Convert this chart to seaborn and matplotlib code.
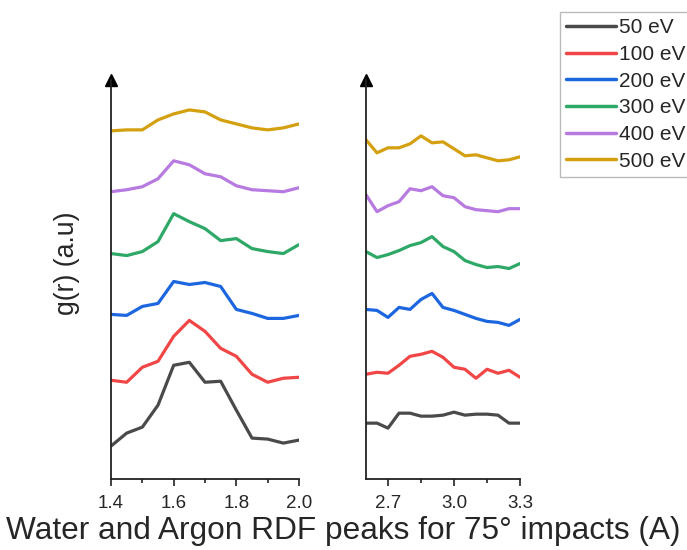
import numpy as np
import pandas as pd
import matplotlib
matplotlib.use("Agg")
import matplotlib.pyplot as plt
from matplotlib.ticker import MultipleLocator, FixedLocator
import seaborn as sns

# ---------------- data ----------------
energies = ["50 eV", "100 eV", "200 eV", "300 eV", "400 eV", "500 eV"]
colors = ["#4a4a4a", "#f04646", "#1c66e0", "#2ea866", "#b77ae0", "#d4a010"]

r_left = [1.40, 1.45, 1.50, 1.55, 1.60, 1.65, 1.70, 1.75, 1.80, 1.85, 1.90, 1.95, 2.00]
g50_left = [0.33, 0.46, 0.52, 0.74, 1.14, 1.17, 0.97, 0.98, 0.69, 0.41, 0.40, 0.36, 0.39]
g100_left = [0.99, 0.97, 1.12, 1.18, 1.43, 1.59, 1.48, 1.31, 1.23, 1.05, 0.97, 1.01, 1.02]
g200_left = [1.65, 1.64, 1.73, 1.76, 1.98, 1.95, 1.97, 1.93, 1.70, 1.66, 1.61, 1.61, 1.64]
g300_left = [2.26, 2.24, 2.28, 2.38, 2.66, 2.58, 2.51, 2.39, 2.41, 2.31, 2.28, 2.26, 2.35]
g400_left = [2.88, 2.90, 2.93, 3.01, 3.19, 3.15, 3.06, 3.03, 2.94, 2.90, 2.89, 2.88, 2.92]
g500_left = [3.49, 3.50, 3.50, 3.60, 3.66, 3.70, 3.68, 3.60, 3.56, 3.52, 3.50, 3.52, 3.56]

r_right = [2.60, 2.65, 2.70, 2.75, 2.80, 2.85, 2.90, 2.95, 3.00, 3.05, 3.10, 3.15, 3.20, 3.25, 3.30]
g50_right = [0.56, 0.56, 0.51, 0.66, 0.66, 0.63, 0.63, 0.64, 0.67, 0.64, 0.65, 0.65, 0.64, 0.56, 0.56]
g100_right = [1.05, 1.07, 1.06, 1.14, 1.23, 1.25, 1.28, 1.22, 1.12, 1.10, 1.01, 1.10, 1.06, 1.09, 1.02]
g200_right = [1.70, 1.69, 1.62, 1.72, 1.70, 1.80, 1.86, 1.72, 1.69, 1.65, 1.61, 1.58, 1.57, 1.54, 1.60]
g300_right = [2.28, 2.22, 2.25, 2.29, 2.34, 2.37, 2.43, 2.33, 2.28, 2.19, 2.15, 2.12, 2.13, 2.11, 2.16]
g400_right = [2.85, 2.68, 2.74, 2.78, 2.91, 2.89, 2.93, 2.84, 2.82, 2.73, 2.70, 2.69, 2.68, 2.71, 2.71]
g500_right = [3.40, 3.27, 3.32, 3.32, 3.36, 3.44, 3.37, 3.38, 3.31, 3.24, 3.25, 3.22, 3.19, 3.20, 3.23]

left_ticks = [1.4, 1.6, 1.8, 2.0]
right_ticks = [2.7, 3.0, 3.3]
xlabel = "Water and Argon RDF peaks for 75° impacts (A)"
ylabel = "g(r) (a.u)"

left_series = [g50_left, g100_left, g200_left, g300_left, g400_left, g500_left]
right_series = [g50_right, g100_right, g200_right, g300_right, g400_right, g500_right]


def long_df(r, series):
    frames = []
    for e, s in zip(energies, series):
        frames.append(pd.DataFrame({"r": r, "g": s, "Energy": e}))
    return pd.concat(frames, ignore_index=True)


df_left = long_df(r_left, left_series)
df_right = long_df(r_right, right_series)

# ---------------- style ----------------
sns.set_style("white")
plt.rcParams["font.family"] = ["Liberation Sans", "DejaVu Sans"]

W, H = 687, 550
fig = plt.figure(figsize=(W / 100, H / 100), dpi=100)

bottom = 1 - 479 / H
top = 1 - 80 / H
axL = fig.add_axes([111 / W, bottom, (299 - 111) / W, top - bottom])
axR = fig.add_axes([366 / W, bottom, (520 - 366) / W, top - bottom])

palette = dict(zip(energies, colors))
sns.lineplot(data=df_left, x="r", y="g", hue="Energy", palette=palette,
             hue_order=energies, ax=axL, linewidth=2.3, legend=False, sort=False)
sns.lineplot(data=df_right, x="r", y="g", hue="Energy", palette=palette,
             hue_order=energies, ax=axR, linewidth=2.3, legend=True, sort=False)

axL.set_xlim(1.4, 2.0)
axR.set_xlim(2.6, 3.3)
for ax in (axL, axR):
    ax.set_ylim(0, 4.0)
    ax.set_yticks([])
    ax.set_xlabel("")
    ax.set_ylabel("")
    for s in ("top", "right"):
        ax.spines[s].set_visible(False)
    for s in ("left", "bottom"):
        ax.spines[s].set_color("#222222")
        ax.spines[s].set_linewidth(1.3)
    ax.tick_params(axis="x", which="major", direction="out", length=5, width=1.2,
                   color="#222222", labelsize=13.5, pad=6.5, bottom=True)
    ax.tick_params(axis="x", which="minor", direction="out", length=3, width=1.2,
                   color="#222222", bottom=True)
    ax.plot([0], [1.0], marker="^", markersize=9, color="black",
            transform=ax.transAxes, clip_on=False)

axL.xaxis.set_major_locator(FixedLocator(left_ticks))
axL.xaxis.set_minor_locator(MultipleLocator(0.1))
axL.set_xticklabels([f"{t:.1f}" for t in left_ticks])
axR.xaxis.set_major_locator(FixedLocator(right_ticks))
axR.xaxis.set_minor_locator(FixedLocator([2.85, 3.15]))
axR.set_xticklabels([f"{t:.1f}" for t in right_ticks])

fig.text(343 / W, 1 - 531 / H, xlabel, ha="center", va="center", fontsize=22.8)
fig.text(67 / W, 1 - 263 / H, ylabel, ha="center", va="center",
         rotation=90, fontsize=19.2)

handles, labels = axR.get_legend_handles_labels()
axR.legend_.remove()
leg = fig.legend(handles, labels, loc="upper left",
                 bbox_to_anchor=(560 / W, 1 - 12 / H), bbox_transform=fig.transFigure,
                 borderaxespad=0, frameon=True, fancybox=False, fontsize=15,
                 handlelength=2.4, handletextpad=0.12, labelspacing=0.37,
                 borderpad=0.3)
leg.get_frame().set_edgecolor("#aaaaaa")
leg.get_frame().set_linewidth(1.0)
for h in leg.get_lines():
    h.set_linewidth(2.5)

fig.savefig("out.png", dpi=100)
